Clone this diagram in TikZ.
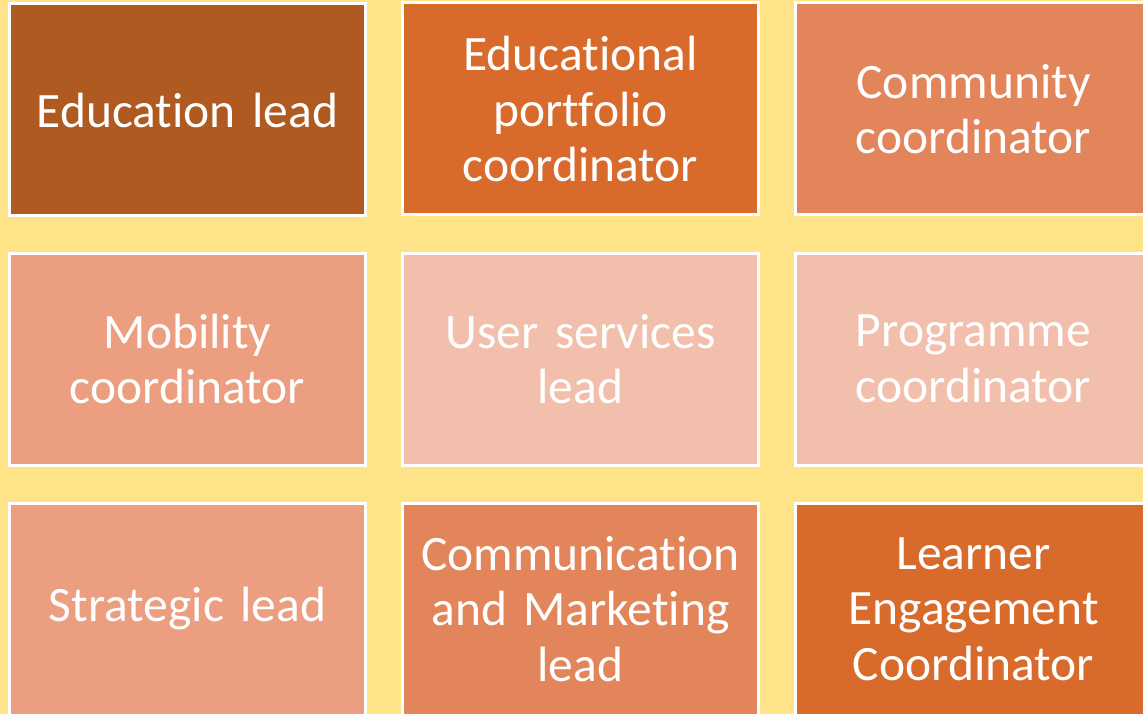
\documentclass[tikz,border=0pt]{standalone}
\usepackage{fontspec}
\setmainfont{Carlito}[Ligatures=NoCommon]
\definecolor{bg}{HTML}{FFE388}
\definecolor{cA}{HTML}{AE5A21}
\definecolor{cB}{HTML}{D86A2B}
\definecolor{cC}{HTML}{E3855A}
\definecolor{cD}{HTML}{EB9E80}
\definecolor{cE}{HTML}{F3BFAD}
\tikzset{
  tile/.style={draw=white, line width=3pt, minimum width=356pt, minimum height=212pt,
    inner sep=0pt, text=white, align=center, text width=345pt,
    font=\fontsize{49.5}{55.5}\selectfont}
}
\begin{document}
\begin{tikzpicture}[x=1pt,y=-1pt]
\fill[bg] (0,0) rectangle (1143,714);
\useasboundingbox (0,0) rectangle (1143,714);
\begin{scope}
\clip (0,0) rectangle (1143,714);
\node[tile, fill=cA] (n11) at (187.5,110) {Education lead};
\node[tile, fill=cB] (n12) at (580.5,109) {Educational\\portfolio\\coordinator};
\node[tile, fill=cC] (n13) at (973.5,109) {Community\\coordinator};
\node[tile, fill=cD] (n21) at (187.5,359) {Mobility\\coordinator};
\node[tile, fill=cE] (n22) at (580.5,359) {User services\\lead};
\node[tile, fill=cE] (n23) at (973.5,359) {Programme\\coordinator};
\node[tile, fill=cD] (n31) at (187.5,609) {Strategic lead};
\node[tile, fill=cC] (n32) at (580.5,609) {Communication\\and Marketing\\lead};
\node[tile, fill=cB] (n33) at (973.5,609) {Learner\\Engagement\\Coordinator};
\end{scope}
\end{tikzpicture}
\end{document}
